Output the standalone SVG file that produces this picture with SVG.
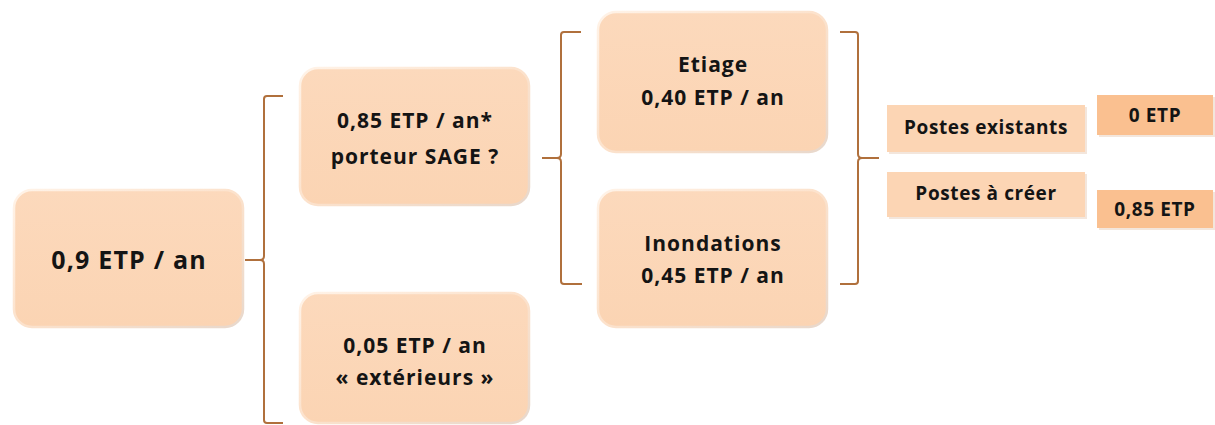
<svg xmlns="http://www.w3.org/2000/svg" width="1215" height="425" viewBox="0 0 1215 425">
  <defs>
    <linearGradient id="boxg" x1="0" y1="0" x2="0" y2="1">
      <stop offset="0" stop-color="#FCD9BC"/>
      <stop offset="1" stop-color="#FBD4B3"/>
    </linearGradient>
    <linearGradient id="edge" x1="0" y1="0" x2="1" y2="1">
      <stop offset="0" stop-color="#FFF3E8"/>
      <stop offset="0.5" stop-color="#FCE2CC"/>
      <stop offset="1" stop-color="#E8D8CC"/>
    </linearGradient>
  </defs>
  <style>
    .box { fill: url(#boxg); stroke: url(#edge); stroke-width: 2.5; }
    .lbl { fill: #FCD5B4; }
    .val { fill: #FAC090; }
    .sh { fill: #F3E6DC; }
    .t { font-family: "Open Sans", "Liberation Sans", sans-serif; font-weight: bold; fill: #141414; text-anchor: middle; }
    .big { font-size: 25px; letter-spacing: 1.2px; }
    .mid { font-size: 21px; letter-spacing: 1px; }
    .sm { font-size: 19px; letter-spacing: 0.6px; }
    .br { fill: none; stroke: #B0703C; stroke-width: 2; }
  </style>

  <g id="connectors">
    <path class="br" d="M283,96 H267 Q264,96 264,99 V256 Q264,260 260,260 H245 M260,260 Q264,260 264,264 V420 Q264,423 267,423 H283"/>
    <path class="br" d="M581,32 H564 Q561,32 561,35 V154 Q561,158 557,158 H542 M557,158 Q561,158 561,162 V281 Q561,284 564,284 H582"/>
    <path class="br" d="M840,32 H855 Q858,32 858,35 V154 Q858,158 862,158 H879 M862,158 Q858,158 858,162 V281 Q858,284 855,284 H840"/>
  </g>

  <g id="n1">
    <rect class="box" x="14" y="190" width="229" height="137" rx="18"/>
    <text class="t big" x="129" y="269">0,9 ETP / an</text>
  </g>
  <g id="n2">
    <rect class="box" x="300" y="68" width="229" height="137" rx="18"/>
    <text class="t mid" x="415" y="128">0,85 ETP / an*</text>
    <text class="t mid" x="415" y="164">porteur SAGE ?</text>
  </g>
  <g id="n3">
    <rect class="box" x="598" y="12" width="229" height="140" rx="18"/>
    <text class="t mid" x="713" y="72">Etiage</text>
    <text class="t mid" x="713" y="105">0,40 ETP / an</text>
  </g>
  <g id="n4">
    <rect class="box" x="598" y="190" width="229" height="137" rx="18"/>
    <text class="t mid" x="713" y="251">Inondations</text>
    <text class="t mid" x="713" y="283">0,45 ETP / an</text>
  </g>
  <g id="n5">
    <rect class="box" x="300" y="293" width="229" height="130" rx="18"/>
    <text class="t mid" x="415" y="353">0,05 ETP / an</text>
    <text class="t mid" x="415" y="385">« extérieurs »</text>
  </g>

  <g id="p1">
    <rect class="sh" x="889" y="107" width="198" height="47"/>
    <rect class="lbl" x="887" y="105" width="198" height="47"/>
    <text class="t sm" x="986" y="134">Postes existants</text>
  </g>
  <g id="p2">
    <rect class="sh" x="889" y="174" width="198" height="45"/>
    <rect class="lbl" x="887" y="172" width="198" height="45"/>
    <text class="t sm" x="986" y="200">Postes à créer</text>
  </g>
  <g id="e1">
    <rect class="sh" x="1099" y="97" width="116" height="40"/>
    <rect class="val" x="1097" y="95" width="116" height="40"/>
    <text class="t sm" x="1155" y="122">0 ETP</text>
  </g>
  <g id="e2">
    <rect class="sh" x="1099" y="192" width="116" height="38"/>
    <rect class="val" x="1097" y="190" width="116" height="38"/>
    <text class="t sm" x="1155" y="216">0,85 ETP</text>
  </g>
</svg>
